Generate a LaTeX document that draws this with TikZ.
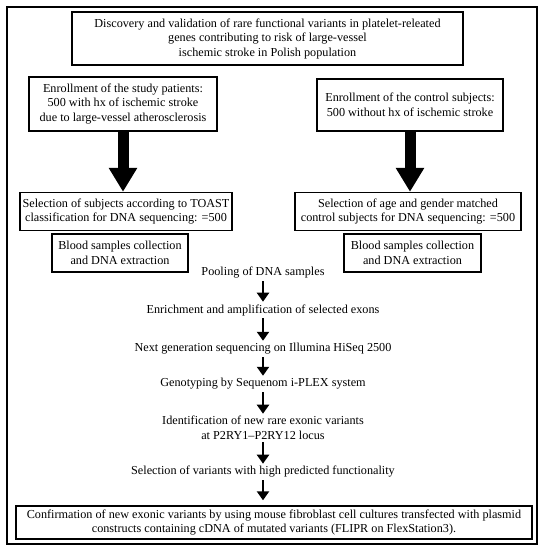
\documentclass[tikz,border=0pt]{standalone}
\usepackage{fontspec}
\setmainfont{Liberation Serif}
\usetikzlibrary{arrows.meta,calc}

\begin{document}
\begin{tikzpicture}
[
x=1pt, y=-1pt, line width=1.4pt,
font=\fontsize{12.2}{14.5}\selectfont,
block/.style    = {draw, rectangle, align=center, inner sep=0pt},
stage/.style    = {align=center, inner sep=2pt},
bigarrow/.style = {line width=11pt, -{Triangle[width=27pt,length=24pt]}},
flow/.style     = {line width=2.8pt, -{Triangle[width=12pt,length=9pt]}},
]
\useasboundingbox (0,0) rectangle (542,550);
\node at (272,275.5)[draw, minimum width=530pt, minimum height=537pt] (frame) {};

\node at (267.5,38.5)[block, minimum width=391pt, minimum height=53pt] (title) {Discovery and validation of rare functional variants in platelet-releated\\ genes contributing to risk of large-vessel\\ ischemic stroke in Polish population};
\node at (123,104)[block, minimum width=188pt, minimum height=54pt] (study) {Enrollment of the study patients:\\ 500 with hx of ischemic stroke\\ due to large-vessel atherosclerosis};
\node at (410,105)[block, minimum width=186pt, minimum height=52pt] (control) {Enrollment of the control subjects:\\ 500 without hx of ischemic stroke};

\node at (126,211.5)[block, minimum width=212pt, minimum height=38pt] (selL) {Selection of subjects according to TOAST\\ classification for DNA sequencing: =500};
\node at (408,211.5)[block, minimum width=226pt, minimum height=38pt] (selR) {Selection of age and gender matched\\ control subjects for DNA sequencing: =500};
\node at (120,253)[block, minimum width=136pt, minimum height=38pt] (bloodL) {Blood samples collection\\ and DNA extraction};
\node at (412.5,253)[block, minimum width=137pt, minimum height=38pt] (bloodR) {Blood samples collection\\ and DNA extraction};

\draw[bigarrow] (study.south) -- (study.south |- selL.north);
\draw[bigarrow] (control.south) -- (control.south |- selR.north);

% pipeline
\node at (263,273)[stage] (pool) {Pooling of DNA samples};
\node at (263,310)[stage] (enrich) {Enrichment and amplification of selected exons};
\node at (263,349)[stage] (ngs) {Next generation sequencing on Illumina HiSeq 2500};
\node at (263,384)[stage] (geno) {Genotyping by Sequenom i-PLEX system};
\node at (263,428)[stage] (ident) {Identification of new rare exonic variants\\ at P2RY1–P2RY12 locus};
\node at (263,472)[stage] (selvar) {Selection of variants with high predicted functionality};
\node at (274,522.5)[block, minimum width=516pt, minimum height=33pt] (confirm) {Confirmation of new exonic variants by using mouse fibroblast cell cultures transfected with plasmid\\ constructs containing cDNA of mutated variants (FLIPR on FlexStation3).};

\draw[flow] (pool.south) -- (enrich.north);
\draw[flow] (enrich.south) -- (ngs.north);
\draw[flow] (ngs.south) -- (geno.north);
\draw[flow] (geno.south) -- (ident.north);
\draw[flow] (ident.south) -- (selvar.north);
\draw[flow, shorten >=5pt] (selvar.south) -- (selvar.south |- confirm.north);
\end{tikzpicture}
\end{document}
